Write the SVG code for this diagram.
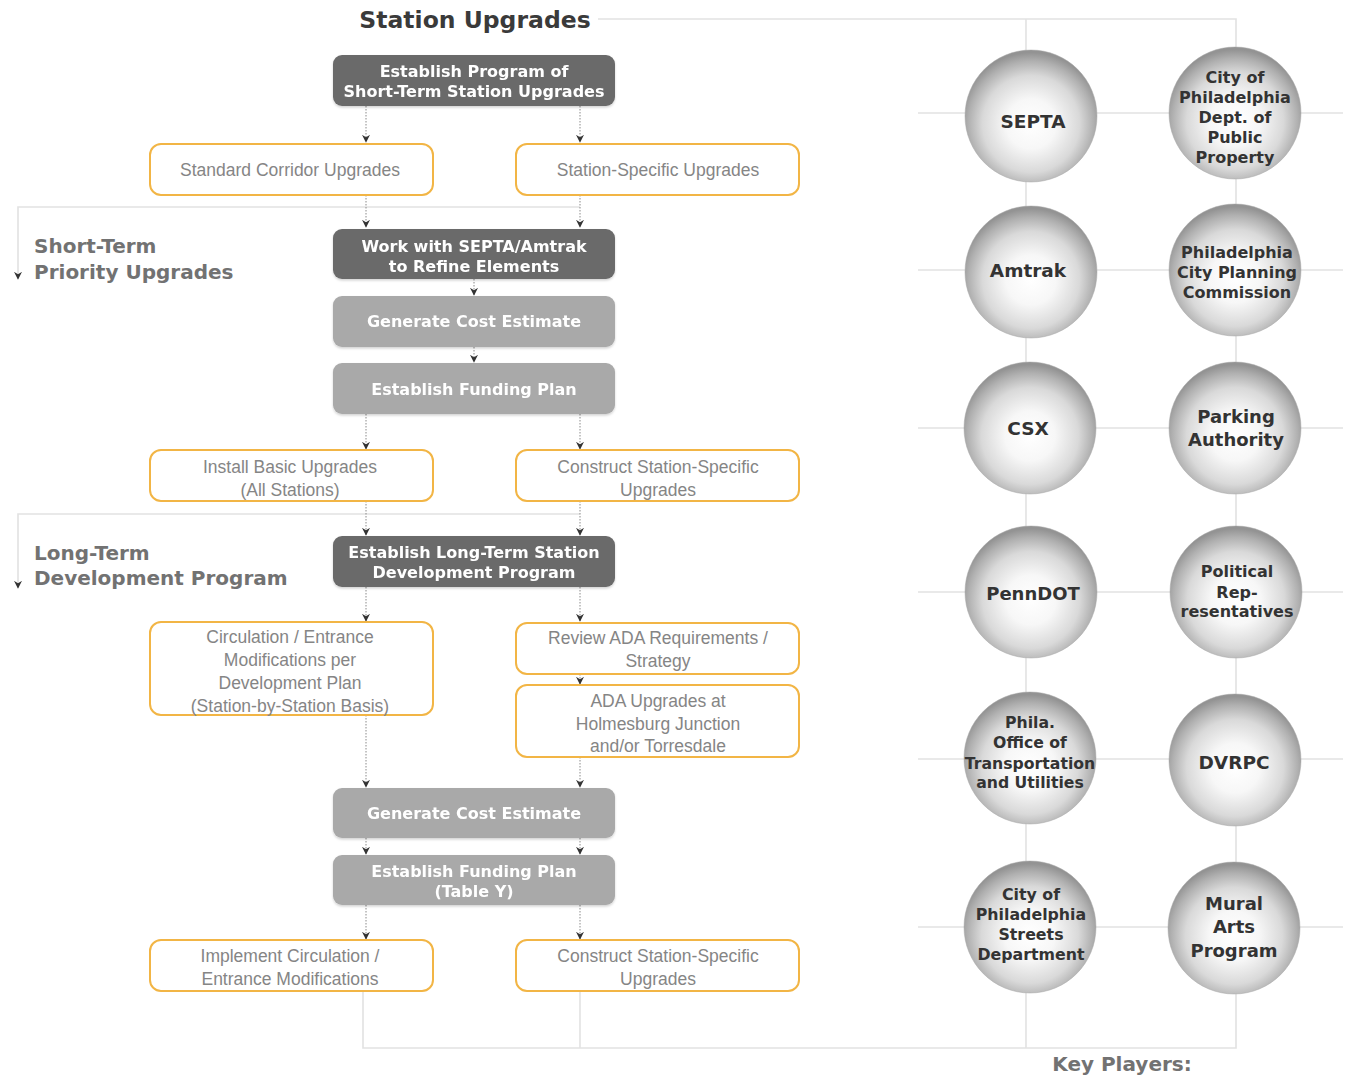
<svg xmlns="http://www.w3.org/2000/svg" width="1347" height="1076" viewBox="0 0 1347 1076">
<style>
.bg{fill:#ffffff}
.grid{stroke:#e2e2e2;stroke-width:1.6;fill:none}
.conn{stroke:#8a8a8a;stroke-width:1;stroke-dasharray:1.5 1.5;fill:none}
.dark{fill:#6b6b6b}
.light{fill:#a9a9a9}
.orange{fill:#ffffff;stroke:#f2b545;stroke-width:2}
.wt{font-family:"DejaVu Sans",sans-serif;font-weight:bold;font-size:16px;fill:#ffffff;text-anchor:middle}
.ot{font-family:"Liberation Sans",Arial,sans-serif;font-size:17.5px;fill:#858585;text-anchor:middle}
.ct{font-family:"DejaVu Sans",sans-serif;font-weight:bold;fill:#333333;text-anchor:middle}
.lbl{font-family:"DejaVu Sans",sans-serif;font-weight:bold;font-size:20px;fill:#727272}
.ball{fill:url(#sphere);stroke:#a8a8a8;stroke-width:0.5}
</style>
<defs>
<radialGradient id="sphere" cx="50%" cy="56%" r="54%">
<stop offset="0%" stop-color="#ffffff"/>
<stop offset="35%" stop-color="#f7f7f7"/>
<stop offset="68%" stop-color="#d9d9d9"/>
<stop offset="88%" stop-color="#b0b0b0"/>
<stop offset="100%" stop-color="#939393"/>
</radialGradient>
<marker id="ah" viewBox="0 0 10 10" refX="9" refY="5" markerWidth="8" markerHeight="8" markerUnits="userSpaceOnUse" orient="auto">
<path d="M0,0 L10,5 L0,10 L3,5 z" fill="#333333"/>
</marker>
<filter id="sh" x="-5%" y="-10%" width="110%" height="130%">
<feDropShadow dx="0" dy="1.5" stdDeviation="1.2" flood-color="#000000" flood-opacity="0.18"/>
</filter>
</defs>
<rect class="bg" x="0" y="0" width="1347" height="1076"/>

<g id="connectors">
<path class="grid" d="M598,19 H1236 V1048 H363 V991"/>
<path class="grid" d="M1026,19 V1048"/>
<path class="grid" d="M580,991 V1048"/>
<path class="grid" d="M918,113 H1343 M918,270 H1343 M918,428 H1343 M918,592 H1343 M918,759 H1343 M918,927 H1343"/>
<path class="grid" d="M580,207 H18 V279" marker-end="url(#ah)"/>
<path class="grid" d="M580,514 H18 V588" marker-end="url(#ah)"/>
<path class="conn" d="M366,106 V142" marker-end="url(#ah)"/>
<path class="conn" d="M580,106 V142" marker-end="url(#ah)"/>
<path class="conn" d="M366,195 V227" marker-end="url(#ah)"/>
<path class="conn" d="M580,195 V227" marker-end="url(#ah)"/>
<path class="conn" d="M474,279 V295" marker-end="url(#ah)"/>
<path class="conn" d="M474,347 V362" marker-end="url(#ah)"/>
<path class="conn" d="M366,414 V449" marker-end="url(#ah)"/>
<path class="conn" d="M580,414 V449" marker-end="url(#ah)"/>
<path class="conn" d="M366,501 V535" marker-end="url(#ah)"/>
<path class="conn" d="M580,501 V535" marker-end="url(#ah)"/>
<path class="conn" d="M366,587 V621" marker-end="url(#ah)"/>
<path class="conn" d="M580,587 V621" marker-end="url(#ah)"/>
<path class="conn" d="M580,674 V684" marker-end="url(#ah)"/>
<path class="conn" d="M366,715 V787" marker-end="url(#ah)"/>
<path class="conn" d="M580,757 V787" marker-end="url(#ah)"/>
<path class="conn" d="M366,838 V854" marker-end="url(#ah)"/>
<path class="conn" d="M580,838 V854" marker-end="url(#ah)"/>
<path class="conn" d="M366,905 V939" marker-end="url(#ah)"/>
<path class="conn" d="M580,905 V939" marker-end="url(#ah)"/>
</g>

<g id="title">
<text x="475" y="28" font-family="DejaVu Sans,sans-serif" font-weight="bold" font-size="23.5" fill="#3a3a3a" text-anchor="middle">Station Upgrades</text>
</g>
<g id="label-short-term">
<text class="lbl" x="34" y="253">Short-Term</text>
<text class="lbl" x="34" y="279">Priority Upgrades</text>
</g>
<g id="label-long-term">
<text class="lbl" x="34" y="560">Long-Term</text>
<text class="lbl" x="34" y="585">Development Program</text>
</g>
<g id="label-key-players">
<text class="lbl" x="1122" y="1071" text-anchor="middle">Key Players:</text>
</g>

<g id="n-establish-program" filter="url(#sh)">
<rect class="dark" x="333" y="55" width="282" height="51" rx="9"/>
<text class="wt" x="474" y="77">Establish Program of</text>
<text class="wt" x="474" y="97">Short-Term Station Upgrades</text>
</g>
<g id="n-standard-corridor">
<rect class="orange" x="150" y="144" width="283" height="51" rx="11"/>
<text class="ot" x="290" y="176">Standard Corridor Upgrades</text>
</g>
<g id="n-station-specific">
<rect class="orange" x="516" y="144" width="283" height="51" rx="11"/>
<text class="ot" x="658" y="176">Station-Specific Upgrades</text>
</g>
<g id="n-work-septa" filter="url(#sh)">
<rect class="dark" x="333" y="229" width="282" height="50" rx="9"/>
<text class="wt" x="474" y="252">Work with SEPTA/Amtrak</text>
<text class="wt" x="474" y="272">to Refine Elements</text>
</g>
<g id="n-cost-1" filter="url(#sh)">
<rect class="light" x="333" y="296" width="282" height="51" rx="9"/>
<text class="wt" x="474" y="327">Generate Cost Estimate</text>
</g>
<g id="n-funding-1" filter="url(#sh)">
<rect class="light" x="333" y="363" width="282" height="51" rx="9"/>
<text class="wt" x="474" y="395">Establish Funding Plan</text>
</g>
<g id="n-install-basic">
<rect class="orange" x="150" y="450" width="283" height="51" rx="11"/>
<text class="ot" x="290" y="473">Install Basic Upgrades</text>
<text class="ot" x="290" y="496">(All Stations)</text>
</g>
<g id="n-construct-1">
<rect class="orange" x="516" y="450" width="283" height="51" rx="11"/>
<text class="ot" x="658" y="473">Construct Station-Specific</text>
<text class="ot" x="658" y="496">Upgrades</text>
</g>
<g id="n-long-term" filter="url(#sh)">
<rect class="dark" x="333" y="536" width="282" height="51" rx="9"/>
<text class="wt" x="474" y="558">Establish Long-Term Station</text>
<text class="wt" x="474" y="578">Development Program</text>
</g>
<g id="n-circulation">
<rect class="orange" x="150" y="622" width="283" height="93" rx="11"/>
<text class="ot" x="290" y="643">Circulation / Entrance</text>
<text class="ot" x="290" y="666">Modifications per</text>
<text class="ot" x="290" y="689">Development Plan</text>
<text class="ot" x="290" y="712">(Station-by-Station Basis)</text>
</g>
<g id="n-review-ada">
<rect class="orange" x="516" y="623" width="283" height="51" rx="11"/>
<text class="ot" x="658" y="644">Review ADA Requirements /</text>
<text class="ot" x="658" y="667">Strategy</text>
</g>
<g id="n-ada-upgrades">
<rect class="orange" x="516" y="685" width="283" height="72" rx="11"/>
<text class="ot" x="658" y="707">ADA Upgrades at</text>
<text class="ot" x="658" y="730">Holmesburg Junction</text>
<text class="ot" x="658" y="752">and/or Torresdale</text>
</g>
<g id="n-cost-2" filter="url(#sh)">
<rect class="light" x="333" y="788" width="282" height="50" rx="9"/>
<text class="wt" x="474" y="819">Generate Cost Estimate</text>
</g>
<g id="n-funding-2" filter="url(#sh)">
<rect class="light" x="333" y="855" width="282" height="50" rx="9"/>
<text class="wt" x="474" y="877">Establish Funding Plan</text>
<text class="wt" x="474" y="897">(Table Y)</text>
</g>
<g id="n-implement">
<rect class="orange" x="150" y="940" width="283" height="51" rx="11"/>
<text class="ot" x="290" y="962">Implement Circulation /</text>
<text class="ot" x="290" y="985">Entrance Modifications</text>
</g>
<g id="n-construct-2">
<rect class="orange" x="516" y="940" width="283" height="51" rx="11"/>
<text class="ot" x="658" y="962">Construct Station-Specific</text>
<text class="ot" x="658" y="985">Upgrades</text>
</g>

<g id="p-septa">
<circle class="ball" cx="1031" cy="116" r="66"/>
<text class="ct" x="1033" y="128" font-size="18.5">SEPTA</text>
</g>
<g id="p-public-property">
<circle class="ball" cx="1235" cy="113" r="66"/>
<text class="ct" font-size="16" x="1235" y="83">City of</text>
<text class="ct" font-size="16" x="1235" y="103">Philadelphia</text>
<text class="ct" font-size="16" x="1235" y="123">Dept. of</text>
<text class="ct" font-size="16" x="1235" y="143">Public</text>
<text class="ct" font-size="16" x="1235" y="163">Property</text>
</g>
<g id="p-amtrak">
<circle class="ball" cx="1031" cy="272" r="66"/>
<text class="ct" x="1028" y="277" font-size="18.5">Amtrak</text>
</g>
<g id="p-pcpc">
<circle class="ball" cx="1235" cy="270" r="66"/>
<text class="ct" font-size="16" x="1237" y="258">Philadelphia</text>
<text class="ct" font-size="16" x="1237" y="278">City Planning</text>
<text class="ct" font-size="16" x="1237" y="298">Commission</text>
</g>
<g id="p-csx">
<circle class="ball" cx="1030" cy="428" r="66"/>
<text class="ct" x="1028" y="435" font-size="18.5">CSX</text>
</g>
<g id="p-parking">
<circle class="ball" cx="1235" cy="428" r="66"/>
<text class="ct" font-size="18" x="1236" y="423">Parking</text>
<text class="ct" font-size="18" x="1236" y="446">Authority</text>
</g>
<g id="p-penndot">
<circle class="ball" cx="1031" cy="592" r="66"/>
<text class="ct" x="1033" y="600" font-size="18">PennDOT</text>
</g>
<g id="p-political">
<circle class="ball" cx="1236" cy="592" r="66"/>
<text class="ct" font-size="16" x="1237" y="577">Political</text>
<text class="ct" font-size="16" x="1237" y="598">Rep-</text>
<text class="ct" font-size="16" x="1237" y="617">resentatives</text>
</g>
<g id="p-otis">
<circle class="ball" cx="1030" cy="758" r="66"/>
<text class="ct" font-size="15.7" x="1030" y="728">Phila.</text>
<text class="ct" font-size="15.7" x="1030" y="748">Office of</text>
<text class="ct" font-size="15.7" x="1030" y="769">Transportation</text>
<text class="ct" font-size="15.7" x="1030" y="788">and Utilities</text>
</g>
<g id="p-dvrpc">
<circle class="ball" cx="1235" cy="760" r="66"/>
<text class="ct" x="1234" y="769" font-size="18.5">DVRPC</text>
</g>
<g id="p-streets">
<circle class="ball" cx="1030" cy="927" r="66"/>
<text class="ct" font-size="15.8" x="1031" y="900">City of</text>
<text class="ct" font-size="15.8" x="1031" y="920">Philadelphia</text>
<text class="ct" font-size="15.8" x="1031" y="940">Streets</text>
<text class="ct" font-size="15.8" x="1031" y="960">Department</text>
</g>
<g id="p-mural">
<circle class="ball" cx="1234" cy="928" r="66"/>
<text class="ct" font-size="18" x="1234" y="910">Mural</text>
<text class="ct" font-size="18" x="1234" y="933">Arts</text>
<text class="ct" font-size="18" x="1234" y="957">Program</text>
</g>
</svg>
